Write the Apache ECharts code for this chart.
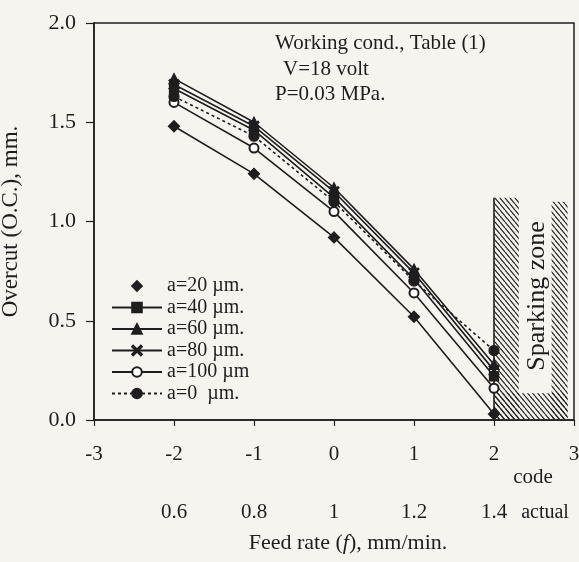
<!DOCTYPE html>
<html>
<head>
<meta charset="utf-8">
<script src="https://cdn.jsdelivr.net/npm/echarts@6/dist/echarts.min.js"></script>
<style>
html,body{margin:0;padding:0;background:#f6f4ef;}
#chart{width:579px;height:562px;}
</style>
</head>
<body>
<div id="chart"></div>
<script>
// ---- data ----
var codes = [-2, -1, 0, 1, 2];
var codeTicks = [-3, -2, -1, 0, 1, 2, 3];
var actualLabels = ['', '0.6', '0.8', '1', '1.2', '1.4', ''];
var seriesNames = ['a=20 \u00b5m.', 'a=40 \u00b5m.', 'a=60 \u00b5m.', 'a=80 \u00b5m.', 'a=100 \u00b5m', 'a=0  \u00b5m.'];
var oc_a20  = [1.48, 1.24, 0.92, 0.52, 0.03];
var oc_a40  = [1.67, 1.46, 1.12, 0.71, 0.22];
var oc_a60  = [1.72, 1.50, 1.17, 0.76, 0.28];
var oc_a80  = [1.69, 1.48, 1.15, 0.74, 0.25];
var oc_a100 = [1.60, 1.37, 1.05, 0.64, 0.16];
var oc_a0   = [1.63, 1.43, 1.10, 0.70, 0.35];
// sparking zone hatched strips: [xStart, xEnd, yStart, yEnd]
var sparkStrips = [
  [2.0, 2.31, 0.0, 1.12],
  [2.72, 2.92, 0.0, 1.10],
  [2.0, 2.92, 0.0, 0.135]
];
var sparkEdge = [[2, 0], [2, 1.12]];

function pairs(vals){ return codes.map(function(c,i){ return [c, vals[i]]; }); }

// hatch pattern
var pc = document.createElement('canvas');
pc.width = 5; pc.height = 6;
var g = pc.getContext('2d');
g.strokeStyle = '#2a2a2a'; g.lineWidth = 1.2;
[-5, 0, 5].forEach(function(o){ g.beginPath(); g.moveTo(o, 0); g.lineTo(o + 5, 6); g.stroke(); });

var FONT = 'Liberation Serif';
var INK = '#1e1e1e';
var xPath = 'path://M0,1L1,0L5,4L9,0L10,1L6,5L10,9L9,10L5,6L1,10L0,9L4,5Z';

function lineSeries(name, vals, symbol, size, dashed, extra){
  var s = {
    name: name, type: 'line', data: pairs(vals), symbol: symbol, symbolSize: size,
    lineStyle: {color: INK, width: 1.6, type: dashed ? [3, 3] : 'solid'},
    itemStyle: {color: INK, borderColor: INK, borderWidth: 1.3},
    z: 3
  };
  if (extra) for (var k in extra) s[k] = extra[k];
  return s;
}

var chart = echarts.init(document.getElementById('chart'), null, {renderer: 'canvas'});
chart.setOption({
  backgroundColor: '#f6f4ef',
  animation: false,
  textStyle: {fontFamily: FONT, color: INK},
  grid: {left: 94, right: 5, top: 23, bottom: 142, show: true, borderColor: INK, borderWidth: 1.5,
    backgroundColor: 'transparent', containLabel: false, outerBoundsMode: 'none'},
  xAxis: [{
    type: 'value', min: -3, max: 3, interval: 1,
    axisLine: {onZero: false, lineStyle: {color: INK, width: 1.5}},
    axisTick: {show: true, length: 6, lineStyle: {color: INK, width: 1.2}},
    splitLine: {show: false},
    axisLabel: {fontFamily: FONT, fontSize: 21, color: INK, margin: 24,
      formatter: function(v){ return String(v); }}
  }, {
    type: 'value', min: -3, max: 3, interval: 1, position: 'bottom', offset: 58,
    axisLine: {show: false, onZero: false}, axisTick: {show: false}, splitLine: {show: false},
    axisLabel: {fontFamily: FONT, fontSize: 21, color: INK, margin: 24,
      formatter: function(v){ var i = codeTicks.indexOf(Math.round(v)); return i >= 0 ? actualLabels[i] : ''; }}
  }],
  yAxis: {
    type: 'value', min: 0, max: 2, interval: 0.5,
    name: 'Overcut (O.C.), mm.', nameLocation: 'middle', nameGap: 72,
    nameTextStyle: {fontFamily: FONT, fontSize: 23, color: INK},
    axisLine: {onZero: false, lineStyle: {color: INK, width: 1.5}},
    axisTick: {show: true, length: 8, lineStyle: {color: INK, width: 1.2}},
    splitLine: {show: false},
    axisLabel: {fontFamily: FONT, fontSize: 22, color: INK, margin: 18,
      formatter: function(v){ return v.toFixed(1); }}
  },
  legend: {
    orient: 'vertical', left: 106, top: 271,
    itemWidth: 50, itemHeight: 12, itemGap: 1.5,
    textStyle: {fontFamily: FONT, fontSize: 20, color: INK, lineHeight: 20},
    data: [
      {name: seriesNames[0], lineStyle: {color: 'rgba(0,0,0,0)'}},
      seriesNames[1], seriesNames[2], seriesNames[3], seriesNames[4], seriesNames[5]
    ]
  },
  graphic: [
    {type: 'text', left: 275, top: 33, style: {text: 'Working cond., Table (1)', font: '21px "Liberation Serif"', fill: INK}},
    {type: 'text', left: 283, top: 59, style: {text: 'V=18 volt', font: '21px "Liberation Serif"', fill: INK}},
    {type: 'text', left: 275, top: 84, style: {text: 'P=0.03 MPa.', font: '21px "Liberation Serif"', fill: INK}},
    {type: 'text', x: 537, y: 296, rotation: Math.PI / 2,
      style: {text: 'Sparking zone', font: '26px "Liberation Serif"', fill: INK, align: 'center', verticalAlign: 'middle'}},
    {type: 'text', x: 533, y: 477, style: {text: 'code', font: '21px "Liberation Serif"', fill: INK, align: 'center', verticalAlign: 'middle'}},
    {type: 'text', x: 545, y: 513, style: {text: 'actual', font: '20px "Liberation Serif"', fill: INK, align: 'center', verticalAlign: 'middle'}},
    {type: 'text', x: 348, y: 543, style: {
      text: '{n|Feed rate (}{i|f}{n|), mm/min.}', align: 'center', verticalAlign: 'middle',
      rich: {n: {fontFamily: FONT, fontSize: 22, fill: INK, color: INK}, i: {fontFamily: FONT, fontStyle: 'italic', fontSize: 22, fill: INK, color: INK}}
    }}
  ],
  series: [
    {
      type: 'custom', name: 'spark', data: sparkStrips, z: 1, silent: true,
      encode: {x: [0, 1], y: [2, 3]},
      renderItem: function(params, api){
        var p0 = api.coord([api.value(0), api.value(3)]);
        var p1 = api.coord([api.value(1), api.value(2)]);
        return {type: 'rect', shape: {x: p0[0], y: p0[1], width: p1[0] - p0[0], height: p1[1] - p0[1]},
          style: {fill: {image: pc, repeat: 'repeat'}, stroke: null}};
      }
    },
    {type: 'line', name: 'edge', data: sparkEdge, symbol: 'none', silent: true, z: 2,
      lineStyle: {color: INK, width: 1.6}},
    lineSeries(seriesNames[0], oc_a20, 'diamond', 11, false),
    lineSeries(seriesNames[1], oc_a40, 'rect', 9, false),
    lineSeries(seriesNames[2], oc_a60, 'triangle', 10, false),
    lineSeries(seriesNames[3], oc_a80, xPath, 10, false),
    lineSeries(seriesNames[4], oc_a100, 'emptyCircle', 9, false, {itemStyle: {color: INK, borderColor: INK, borderWidth: 1.3}}),
    lineSeries(seriesNames[5], oc_a0, 'circle', 10, true)
  ]
});
</script>
</body>
</html>
